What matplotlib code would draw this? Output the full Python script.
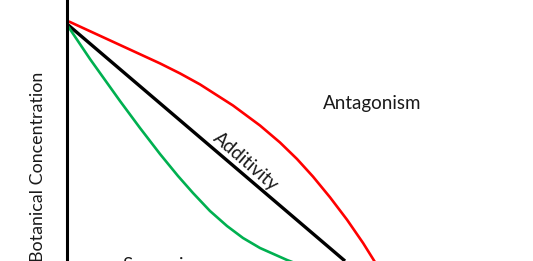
import matplotlib
matplotlib.use("Agg")
import matplotlib.pyplot as plt

# Curves (x = dose units, y = botanical concentration units)
additivity_x = [0.5, 278.5]
additivity_y = [237.0, 0.0]

antagonism_x = [3.5, 33.5, 63.5, 93.5, 113.5, 133.5, 166.5, 193.5, 213.5, 230.5,
                246.5, 263.5, 280.5, 296.5, 306.5, 314.5]
antagonism_y = [239.0, 225.2, 211.4, 197.6, 187.6, 176.6, 155.5, 135.5, 118.5, 102.0,
                84.4, 63.7, 41.3, 18.1, 2.1, -11.0]

synergism_x = [0.0, 23.5, 38.5, 53.5, 73.5, 93.5, 111.5, 126.5, 143.5, 160.5,
               176.5, 193.5, 220.5, 233.5]
synergism_y = [237.0, 202.0, 181.0, 160.0, 133.0, 107.0, 85.0, 68.0, 50.0, 35.0,
               23.0, 13.0, 1.0, -4.0]

labels = {"antagonism": "Antagonism", "additivity": "Additivity",
          "synergism": "Synergism", "ylabel": "Botanical Concentration"}

W, H = 533, 261
fig = plt.figure(figsize=(W / 100, H / 100), dpi=100)
x0 = 66.5
ax = fig.add_axes([x0 / W, 0, 1 - x0 / W, 1])
ax.set_xlim(0, W - x0)
ax.set_ylim(0, H)
for s in ["top", "right", "bottom"]:
    ax.spines[s].set_visible(False)
ax.spines["left"].set_linewidth(2.2)
ax.spines["left"].set_color("black")
ax.set_xticks([])
ax.set_yticks([])
ax.patch.set_alpha(0)

ax.plot(additivity_x, additivity_y, color="black", lw=2.4, solid_capstyle="butt")
ax.plot(antagonism_x, antagonism_y, color="#FF0000", lw=1.9, solid_joinstyle="round")
ax.plot(synergism_x, synergism_y, color="#00B050", lw=1.9, solid_joinstyle="round")

font = "Lato"
fs = 13.5
ax.text(256.5, 151.5, labels["antagonism"], fontsize=fs, family=font,
        ha="left", va="baseline", color="#1a1a1a")
ax.text(175.4, 95.4, labels["additivity"], fontsize=fs, family=font,
        ha="center", va="baseline", rotation=-40.8, rotation_mode="anchor",
        color="#1a1a1a")
ax.text(55.5, -9.5, labels["synergism"], fontsize=fs, family=font,
        ha="left", va="baseline", color="#1a1a1a", clip_on=False)
ax.text(-23.0, 189.0, labels["ylabel"], fontsize=12.9, family=font,
        ha="right", va="baseline", rotation=90, rotation_mode="anchor",
        color="#1a1a1a", clip_on=False)

fig.savefig("out.png", dpi=100)
